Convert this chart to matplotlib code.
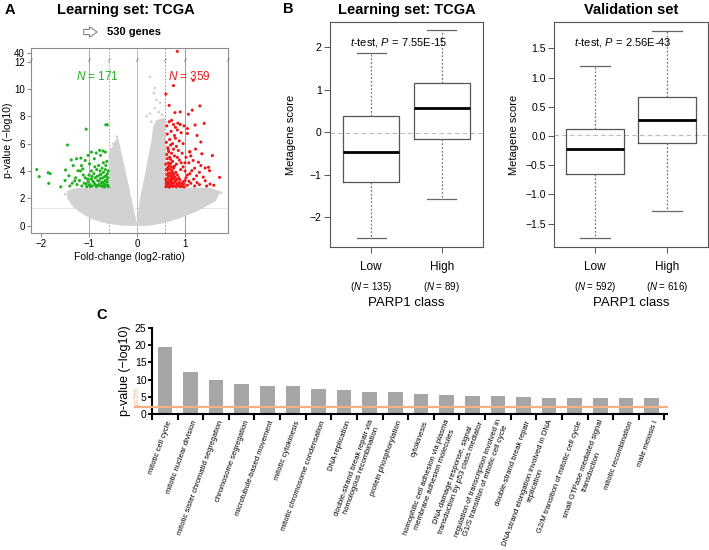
import numpy as np
import matplotlib
matplotlib.use('Agg')
import matplotlib.pyplot as plt
from matplotlib.transforms import blended_transform_factory

plt.rcParams.update({'font.family': ['Liberation Sans', 'DejaVu Sans'],
                     'mathtext.fontset': 'custom',
                     'mathtext.rm': 'Liberation Sans',
                     'mathtext.it': 'Liberation Sans:italic',
                     'axes.unicode_minus': True})

# ---------------- data: panel A (volcano) ----------------
grey_left_x = [0.0, -0.10, -0.20, -0.31, -0.40, -0.45, -0.50, -0.585, -0.585,
               -1.0, -1.3, -1.45, -1.45, -1.3, -1.1, -0.9, -0.6, -0.3]
grey_left_y = [0.0, 1.6, 3.2, 5.0, 6.4, 6.2, 5.8, 5.3, 2.75,
               2.75, 2.7, 2.5, 2.0, 1.3, 0.8, 0.45, 0.15, 0.02]
grey_right_x = [0.0, 0.06, 0.16, 0.24, 0.31, 0.34, 0.41, 0.55, 0.585, 0.585,
                1.2, 1.5, 1.73, 1.63, 1.24, 0.9, 0.55, 0.2]
grey_right_y = [0.0, 1.8, 3.5, 5.0, 6.25, 7.2, 7.7, 7.85, 7.8, 2.75,
                2.75, 2.75, 2.5, 1.8, 1.06, 0.57, 0.2, 0.0]
grey_pts_x = [0.27, 0.37, 0.35, 0.40, 0.48, 0.37, 0.27, 0.20, 0.45, 1.75,
              1.65, 1.55, -0.42, -0.50, -0.55, -1.50, -1.35, -1.20, 0.30, 0.52]
grey_pts_y = [10.9, 10.07, 9.7, 9.2, 9.0, 8.6, 8.2, 8.0, 8.3, 2.4,
              2.2, 2.5, 6.5, 6.0, 5.6, 2.3, 1.6, 1.1, 7.6, 8.1]

green_x = [-2.09, -2.04, -1.85, -1.81, -1.84, -1.59, -1.45, -1.06, -0.65, -0.62,
           -1.37, -1.26, -1.17, -1.49, -1.42, -1.30, -1.23, -1.16, -1.08, -1.02,
           -0.95, -0.85, -0.78, -0.71, -0.66, -0.76, -0.89, -0.99, -1.13, -1.33,
           -1.25, -1.20, -1.15, -1.10, -1.08, -1.05, -1.02, -1.00, -0.98, -0.95,
           -0.93, -0.90, -0.90, -0.87, -0.85, -0.84, -0.82, -0.80, -0.78, -0.76,
           -0.75, -0.73, -0.72, -0.70, -0.69, -0.67, -0.66, -0.65, -0.64, -0.62,
           -0.61, -0.60, -0.60, -0.63, -0.70, -0.80, -0.88, -0.95, -1.12, -1.18,
           -1.28, -1.35, -1.40, -1.50, -0.97, -0.88, -0.74, -0.68, -0.62, -0.83,
           -0.92, -1.03, -0.71, -0.77, -0.66, -0.86, -0.79, -0.64, -1.00, -1.06,
           -0.61, -0.63, -0.69, -0.73, -0.81, -0.94, -0.67, -0.75]
green_y = [4.10, 3.58, 3.87, 3.80, 3.09, 2.84, 5.90, 7.06, 7.38, 7.38,
           4.81, 4.89, 4.94, 4.07, 3.65, 3.28, 4.02, 4.39, 4.77, 5.14,
           5.38, 5.31, 5.51, 5.46, 5.38, 5.14, 4.89, 4.52, 4.15, 4.39,
           3.00, 3.30, 2.90, 3.10, 3.50, 2.85, 3.20, 3.70, 3.00, 3.40,
           2.90, 3.80, 3.15, 3.50, 2.85, 4.10, 3.30, 3.00, 3.70, 3.45,
           2.90, 4.20, 3.20, 3.90, 2.95, 3.60, 3.30, 4.40, 3.00, 3.80,
           3.50, 2.85, 4.00, 4.70, 4.60, 4.40, 4.30, 4.00, 3.70, 4.00,
           3.50, 3.10, 2.90, 3.30, 2.85, 3.05, 3.10, 2.82, 3.20, 3.60,
           3.25, 3.40, 3.50, 4.00, 4.10, 2.95, 3.25, 3.65, 2.95, 3.05,
           2.95, 3.35, 3.15, 2.88, 2.92, 3.60, 2.86, 3.75]

red_x = [0.60, 0.63, 0.67, 0.70, 0.74, 0.78, 0.82, 0.86, 0.90, 0.94, 0.98,
         0.61, 0.65, 0.69, 0.72, 0.76, 0.80, 0.84, 0.88, 0.93,
         0.60, 0.64, 0.68, 0.71, 0.75, 0.79, 0.83, 0.87,
         0.62, 0.66, 0.70, 0.73, 0.77, 0.81,
         0.61, 0.64, 0.68, 0.72, 0.76, 0.60, 0.65, 0.70, 0.74, 0.63, 0.68,
         0.62, 0.66, 0.72, 0.78, 0.84, 0.88, 0.92, 0.96, 1.00, 1.05,
         0.64, 0.70, 0.76, 0.82, 0.86, 0.94, 1.02, 1.08,
         0.61, 0.68, 0.74, 0.80, 0.88, 0.96, 1.10,
         0.63, 0.71, 0.78, 0.84, 0.92,
         0.62, 0.67, 0.72, 0.76, 0.80, 0.85, 0.90, 0.98, 1.05,
         1.57, 1.72, 1.49, 1.51, 1.42, 1.33, 1.28, 1.33, 1.40, 1.21,
         1.35, 1.52, 1.42, 1.24, 1.14, 1.17, 1.10, 1.05, 1.15, 1.07,
         1.31, 1.60, 1.45, 1.30, 1.20, 1.12, 1.05, 1.00, 1.18, 1.25,
         1.38, 1.10, 1.20, 1.30, 1.00, 1.12, 1.22, 1.25,
         0.84, 1.17, 0.76, 0.60, 0.67, 0.90, 0.79,
         0.62, 0.65, 0.69, 0.73, 0.77, 0.81, 0.85, 0.89, 0.92, 0.96,
         0.61, 0.66, 0.71, 0.75, 0.79, 0.84, 0.63, 0.67, 0.72, 0.78,
         0.62, 0.69, 0.74, 0.70, 0.65, 0.82, 0.91, 1.02, 0.97, 1.08]
red_y = [2.85, 2.90, 2.82, 2.95, 2.86, 2.90, 2.84, 2.92, 2.86, 2.88, 2.83,
         3.10, 3.20, 3.05, 3.25, 3.10, 3.20, 3.05, 3.15, 3.10,
         3.40, 3.50, 3.35, 3.60, 3.45, 3.55, 3.40, 3.50,
         3.75, 3.85, 3.80, 4.00, 3.75, 3.90,
         4.10, 4.25, 4.15, 4.30, 4.20, 4.50, 4.60, 4.55, 4.70, 4.90, 5.00,
         5.20, 5.40, 5.30, 5.10, 5.00, 4.80, 4.60, 4.30, 4.00, 3.70,
         5.70, 5.90, 5.60, 5.80, 5.50, 5.30, 5.00, 4.60,
         6.10, 6.30, 6.00, 6.40, 6.20, 6.00, 5.40,
         6.70, 6.90, 6.60, 7.00, 6.80,
         7.30, 7.60, 7.70, 7.40, 7.20, 7.50, 7.40, 7.30, 7.10,
         5.13, 3.53, 4.27, 4.02, 4.22, 4.40, 4.64, 6.12, 7.48, 7.36,
         5.26, 3.04, 3.28, 3.65, 4.02, 4.77, 5.40, 6.74, 8.45, 8.15,
         8.76, 2.95, 2.90, 3.00, 2.90, 3.10, 2.95, 3.30, 3.40, 3.15,
         3.55, 3.80, 4.20, 3.90, 4.60, 5.10, 5.60, 6.60,
         45.0, 10.64, 10.25, 9.63, 8.80, 8.32, 8.27,
         2.98, 3.02, 2.88, 3.12, 2.96, 3.30, 2.98, 3.35, 2.95, 3.20,
         3.28, 3.65, 3.45, 3.85, 3.35, 3.70, 4.05, 4.40, 4.00, 4.35,
         2.92, 3.15, 3.62, 4.85, 5.55, 4.50, 4.10, 3.50, 3.05, 3.25]

lfc_cut = [-1.0, -0.585, 0.585, 1.0]
p_line = 1.30
n_down, n_up = 171, 359

# ---------------- data: panel B (box plots) ----------------
groups = ['Low', 'High']
tcga_n = [135, 89]
tcga_stats = {'whislo': [-2.48, -1.57], 'q1': [-1.16, -0.16], 'med': [-0.46, 0.57],
              'q3': [0.37, 1.15], 'whishi': [1.87, 2.41]}
tcga_ref = -0.03
tcga_p = '7.55E-15'
val_n = [592, 616]
val_stats = {'whislo': [-1.75, -1.28], 'q1': [-0.65, -0.125], 'med': [-0.23, 0.27],
             'q3': [0.125, 0.665], 'whishi': [1.19, 1.80]}
val_ref = 0.01
val_p = '2.56E-43'

# ---------------- data: panel C (GO enrichment) ----------------
go_terms = ['mitotic cell cycle', 'mitotic nuclear division',
            'mitotic sister chromatid segregation', 'chromosome segregation',
            'microtubule-based movement', 'mitotic cytokinesis',
            'mitotic chromosome condensation', 'DNA replication',
            'double-strand break repair via\nhomologous recombination',
            'protein phosphorylation', 'cytokinesis',
            'homophilic cell adhesion via plasma\nmembrane adhesion molecules',
            'DNA damage response, signal\ntransduction by p53 class mediator',
            'regulation of transcription involved in\nG1/S transition of mitotic cell cycle',
            'double-strand break repair',
            'DNA strand elongation involved in DNA\nreplication',
            'G2/M transition of mitotic cell cycle',
            'small GTPase mediated signal\ntransduction',
            'mitotic recombination', 'male meiosis I']
go_logp = [19.6, 12.3, 9.8, 8.6, 8.1, 8.1, 7.3, 6.9, 6.25, 6.25,
           5.9, 5.6, 5.3, 5.1, 5.0, 4.7, 4.7, 4.7, 4.7, 4.7]
go_cut = 2.0

GREEN, RED, GREY = '#1FB11F', '#F01818', '#D2D2D2'
ORANGE, BAR = '#F4B183', '#A6A6A6'
FRAME = '#8C8C8C'


def ymap(v):
    # broken y axis: linear to 12, 12..40 squeezed into a thin strip
    v = np.asarray(v, dtype=float)
    return np.where(v <= 12, v, 12 + (v - 12) * 0.64 / 28)


fig = plt.figure(figsize=(7.09, 5.5), dpi=100)

# --- (A) volcano -------------------------------------------------------
axA = fig.add_axes([0.0437, 0.5764, 0.2779, 0.3363])
axA.fill(grey_left_x, grey_left_y, color=GREY, lw=0.5, zorder=1)
axA.fill(grey_right_x, grey_right_y, color=GREY, lw=0.5, zorder=1)
axA.scatter(grey_pts_x, grey_pts_y, s=4, color=GREY, edgecolors='none', zorder=1)
axA.axhline(p_line, color='#E2E2E2', lw=0.6, zorder=0)
axA.axvline(0, color='#BBBBBB', lw=0.7, zorder=0)
axA.axvline(lfc_cut[0], color=GREEN, lw=0.6, alpha=0.7, zorder=0)
axA.axvline(lfc_cut[1], color=GREEN, lw=0.6, ls=(0, (2, 2)), alpha=0.7, zorder=0)
axA.axvline(lfc_cut[2], color=RED, lw=0.6, ls=(0, (2, 2)), alpha=0.7, zorder=0)
axA.axvline(lfc_cut[3], color=RED, lw=0.6, alpha=0.7, zorder=0)
axA.scatter(green_x, ymap(green_y), s=5, color=GREEN, edgecolors='none', zorder=3)
axA.scatter(red_x, ymap(red_y), s=5, color=RED, edgecolors='none', zorder=3)
axA.set_xlim(-2.21, 1.896)
axA.set_ylim(-0.54, 13.0)
yt = [0, 2, 4, 6, 8, 10, 12, 40]
axA.set_yticks(ymap(yt))
axA.set_yticklabels([str(v) for v in yt])
axA.set_xticks([-2, -1, 0, 1])
axA.set_xticklabels(['\u22122', '\u22121', '0', '1'])
for s in axA.spines.values():
    s.set_color(FRAME)
    s.set_linewidth(0.8)
axA.tick_params(labelsize=7, length=3, width=0.7, color=FRAME, pad=1.5)
axA.set_xlabel('Fold-change (log2-ratio)', fontsize=7.5, labelpad=2)
axA.set_ylabel('p-value (\u2212log10)', fontsize=7.5, labelpad=1)
for xb in [-2.21, lfc_cut[0], lfc_cut[1], 0, lfc_cut[2], lfc_cut[3], 1.896]:
    axA.text(xb, 12.08, '//', fontsize=4.5, color='#777777', ha='center',
             va='center', style='italic', clip_on=False, zorder=5)
axA.text(-0.83, 10.9, '$N$ = %d' % n_down, color=GREEN, fontsize=8.5,
         ha='center', va='center')
axA.text(1.1, 10.9, '$N$ = %d' % n_up, color=RED, fontsize=8.5,
         ha='center', va='center')
fig.text(126 / 709, 1 - 10 / 550, 'Learning set: TCGA', fontsize=10.5,
         fontweight='bold', ha='center', va='center')
fig.text(10 / 709, 1 - 10 / 550, 'A', fontsize=10.5, fontweight='bold',
         ha='center', va='center')
axA.annotate('', xy=(100, 550 - 32), xytext=(81, 550 - 32),
             xycoords='figure pixels', textcoords='figure pixels',
             arrowprops=dict(arrowstyle='simple,head_width=0.75,head_length=0.55,tail_width=0.38',
                             fc='white', ec='#777777', lw=0.7))
fig.text(107 / 709, 1 - 32 / 550, '%d genes' % (n_down + n_up), fontsize=8,
         fontweight='bold', ha='left', va='center')


# --- (B) box plots -----------------------------------------------------
def boxpanel(rect, stats, ns, ref, pval, title, yticks, ylim, xlim, fmt):
    ax = fig.add_axes(rect)
    bx = []
    for i in range(2):
        bx.append({k: stats[k][i] for k in stats})
    ax.bxp(bx, positions=[1, 2], widths=0.8, capwidths=0.41, showfliers=False,
           boxprops=dict(color='#555555', lw=0.9),
           medianprops=dict(color='black', lw=2.0),
           whiskerprops=dict(color='#777777', lw=0.9, ls=(0, (1.5, 1.5))),
           capprops=dict(color='#666666', lw=0.9))
    ax.axhline(ref, color='#BBBBBB', lw=0.8, ls=(0, (4, 3)), zorder=0)
    ax.set_xlim(*xlim)
    ax.set_ylim(*ylim)
    ax.set_yticks(yticks)
    ax.set_yticklabels([fmt % v if v >= 0 else '\u2212' + fmt % -v for v in yticks])
    ax.set_xticks([1, 2])
    ax.set_xticklabels([])
    for s in ax.spines.values():
        s.set_color('#555555')
        s.set_linewidth(0.8)
    ax.tick_params(labelsize=7.5, length=4, width=0.7, color='#555555', pad=2)
    tr = blended_transform_factory(ax.transData, ax.transAxes)
    for i, g in enumerate(groups):
        ax.text(i + 1, -0.089, g, transform=tr, fontsize=8.5, ha='center', va='center')
        ax.text(i + 1, -0.178, '($N$ = %d)' % ns[i], transform=tr, fontsize=7,
                ha='center', va='center')
    ax.text(0.5, -0.249, 'PARP1 class', transform=ax.transAxes, fontsize=9.5,
            ha='center', va='center')
    ax.text(0.45, 0.907, '$t$-test, $P$ = ' + pval, transform=ax.transAxes,
            fontsize=8, ha='center', va='center')
    ax.set_ylabel('Metagene score', fontsize=8)
    ax.set_title(title, fontsize=10.5, fontweight='bold', pad=6)
    return ax


axB1 = boxpanel([0.4654, 0.5509, 0.2158, 0.4091], tcga_stats, tcga_n, tcga_ref,
                tcga_p, 'Learning set: TCGA', [-2, -1, 0, 1, 2], (-2.70, 2.59),
                (0.42, 2.58), '%d')
axB1.yaxis.set_label_coords(-0.22, 0.5)
axB2 = boxpanel([0.7814, 0.5509, 0.2172, 0.4091], val_stats, val_n, val_ref,
                val_p, 'Validation set', [-1.5, -1.0, -0.5, 0.0, 0.5, 1.0, 1.5],
                (-1.90, 1.95), (0.43, 2.57), '%.1f')
axB2.yaxis.set_label_coords(-0.23, 0.5)
fig.text(288 / 709, 1 - 9 / 550, 'B', fontsize=10.5, fontweight='bold',
         ha='center', va='center')

# --- (C) GO enrichment bars -------------------------------------------
axC = fig.add_axes([0.2144, 0.2473, 0.7263, 0.1564])
xpos = np.arange(len(go_terms))
axC.bar(xpos, go_logp, width=0.57, color=BAR, zorder=2)
axC.plot([-1.17, 19.6], [go_cut, go_cut], color=ORANGE, lw=1.6, zorder=3,
         clip_on=False)
axC.text(-1.1, go_cut + 0.6, 'p<5%', rotation=90, color=ORANGE, fontsize=5,
         ha='center', va='bottom')
axC.set_xlim(-0.5, 19.6)
axC.set_ylim(0, 25)
axC.set_yticks([0, 5, 10, 15, 20, 25])
axC.set_xticks(np.arange(len(go_terms) + 1) - 0.5)
axC.set_xticklabels([])
for side in ['top', 'right']:
    axC.spines[side].set_visible(False)
for side in ['left', 'bottom']:
    axC.spines[side].set_linewidth(1.5)
axC.tick_params(axis='y', labelsize=7.5, length=3, width=1.3, pad=1)
axC.tick_params(axis='x', length=4, width=1.5)
trC = blended_transform_factory(axC.transData, axC.transAxes)
for i, lab in enumerate(go_terms):
    axC.text(i + 0.2, -0.08, lab, transform=trC, rotation=70, fontsize=5.5,
             ha='right', va='center', rotation_mode='anchor',
             multialignment='center')
axC.set_ylabel('p-value (\u2212log10)', fontsize=9, labelpad=3)
fig.text(102 / 709, 1 - 315 / 550, 'C', fontsize=10.5, fontweight='bold',
         ha='center', va='center')

fig.savefig('out.png', dpi=100)
